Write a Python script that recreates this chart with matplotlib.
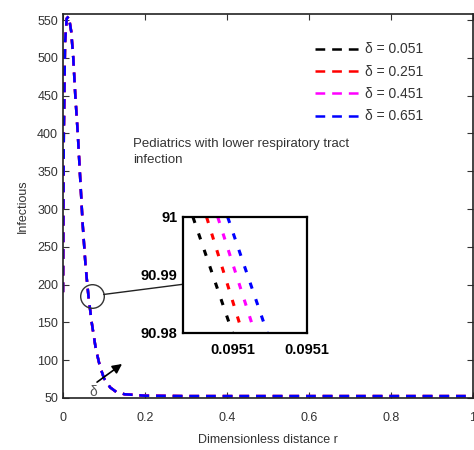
import numpy as np
import matplotlib
matplotlib.use("Agg")
import matplotlib.pyplot as plt

plt.rcParams['font.family'] = ['Liberation Sans', 'DejaVu Sans']
plt.rcParams['lines.scale_dashes'] = False

# ---- data ----
deltas = [0.051, 0.251, 0.451, 0.651]
colors = ['black', 'red', 'magenta', 'blue']

r = [0, 0.002, 0.005, 0.009, 0.014, 0.02, 0.025, 0.03, 0.036, 0.042, 0.048,
     0.055, 0.062, 0.07, 0.08, 0.09, 0.1, 0.115, 0.13, 0.15, 0.175, 0.2,
     0.3, 0.5, 0.7, 1.0]
infectious = [190, 400, 520, 552, 555, 535, 500, 450, 400, 340, 280,
              225, 185, 150, 115, 92, 76, 64, 58, 55, 54, 53,
              52.5, 52.5, 52.5, 52.5]

# zoomed view: each curve crosses 91 -> 90.98
inset_y = [91.0, 90.98]
inset_r_top = [0.0951008, 0.0951019, 0.0951028, 0.0951036]
inset_r_bottom = [0.0951040, 0.0951048, 0.0951058, 0.0951068]
inset_xlim = (0.0951, 0.09511)
inset_xticks = [0.095104, 0.09511]
inset_yticks = [90.98, 90.99, 91]

zoom_r, zoom_val = 0.0707, 185
arrow_from = (0.083, 71)
arrow_to = (0.144, 95)

txt = '#333333'

fig = plt.figure(figsize=(4.74, 4.5), dpi=100)
ax = fig.add_axes([63 / 474, 1 - 398 / 450, 410 / 474, 384 / 450])

for d, c in zip(deltas, colors):
    ax.plot(r, infectious, color=c, linestyle='--', dashes=(7, 5), lw=1.8,
            label='δ = %.3f' % d)

ax.set_xlim(0, 1)
ax.set_ylim(50, 558)
ax.set_xticks([0, 0.2, 0.4, 0.6, 0.8, 1.0])
ax.set_xticklabels(['0', '0.2', '0.4', '0.6', '0.8', '1'])
ax.set_yticks(np.arange(50, 551, 50))
ax.tick_params(direction='in', top=True, right=True, length=4,
               labelsize=9, colors=txt, labelcolor=txt)
ax.tick_params(axis='x', pad=10)
for s in ax.spines.values():
    s.set_color('#222222')
    s.set_linewidth(1.2)
ax.set_xlabel('Dimensionless distance r', fontsize=9, color=txt, labelpad=7)
ax.set_ylabel('Infectious', fontsize=9, color=txt, labelpad=6)

leg = ax.legend(loc='upper left', bbox_to_anchor=(0.615, 0.926), frameon=False,
                fontsize=10, handlelength=3.3, handletextpad=0.3,
                labelspacing=0.6, borderpad=0, borderaxespad=0)
for t in leg.get_texts():
    t.set_color(txt)

ax.text(0.17, 0.677, 'Pediatrics with lower respiratory tract\ninfection',
        transform=ax.transAxes, fontsize=9.5, color=txt, va='top',
        linespacing=1.4)

# circle + connector
ax.plot([zoom_r], [zoom_val], marker='o', ms=17, mfc='none', mec='#333333',
        mew=1.0)

# inset
ins = fig.add_axes([183 / 474, 1 - 333 / 450, 124 / 474, 116 / 450])
for i, c in enumerate(colors):
    ins.plot([inset_r_top[i], inset_r_bottom[i]], inset_y, color=c,
             linestyle='--', dashes=(4.5, 8), lw=2.2)
ins.set_xlim(*inset_xlim)
ins.set_ylim(90.98, 91.0)
ins.set_xticks(inset_xticks)
ins.set_xticklabels(['%.4f' % v for v in inset_xticks])
ins.set_yticks(inset_yticks)
ins.set_yticklabels(['90.98', '90.99', '91'])
ins.tick_params(length=0, labelsize=10.5, pad=4)
ins.tick_params(axis='x', pad=7)
for lab in ins.get_xticklabels() + ins.get_yticklabels():
    lab.set_fontweight('bold')
for s in ins.spines.values():
    s.set_linewidth(1.6)

ax.annotate('', xy=(0, 0.42), xycoords=ins.transAxes,
            xytext=(zoom_r, zoom_val), textcoords='data',
            arrowprops=dict(arrowstyle='-', color='#222222', lw=1.0,
                            shrinkA=8.5, shrinkB=0))

ax.annotate('', xy=arrow_to, xytext=arrow_from,
            arrowprops=dict(arrowstyle='-|>', color='black', lw=1.2,
                            mutation_scale=14, shrinkA=0, shrinkB=0))
ax.text(0.073, 58, 'δ', fontsize=10, color='#555555', ha='center', va='center')

fig.savefig('out.png', dpi=100)
